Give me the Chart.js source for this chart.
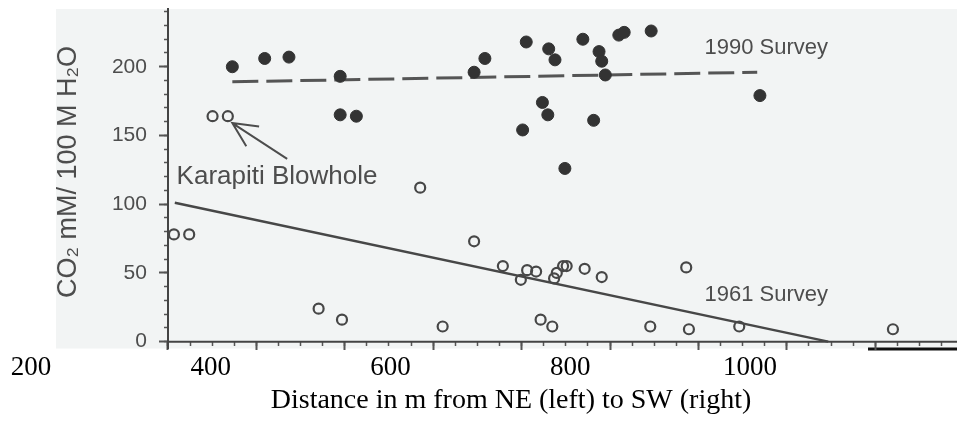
<!DOCTYPE html>
<html lang="en">
<head>
  <meta charset="UTF-8" />
  <title>CO2 along the Karapiti traverse</title>
  <script src="https://cdn.jsdelivr.net/npm/chart.js"></script>
  <style>
    html, body { margin: 0; padding: 0; background: #ffffff; overflow: hidden; }
    /* the plot runs on past the right edge of the window, as the scanned figure does */
    #grafica { display: block; }
  </style>
</head>
<body>
  <canvas id="grafica" width="1022" height="425"></canvas>

  <script>
    // 1990 survey (filled dots)
    const dist1990 = [424, 460, 487, 544, 544, 562, 693, 705, 751, 776, 783, 814, 832, 835, 839, 854, 860, 890, 769, 775, 747, 826, 794, 1011];
    const co2_1990 = [200, 206, 207, 193, 165, 164, 196, 206, 218, 213, 205, 220, 211, 204, 194, 223, 225, 226, 174, 165, 154, 161, 126, 179];

    // 1961 survey (open circles)
    const dist1961 = [402, 419, 359, 376, 520, 546, 633, 658, 693, 725, 745, 752, 762, 782, 785, 792, 796, 816, 835, 767, 780, 889, 929, 932, 988, 1159];
    const co2_1961 = [164, 164, 78, 78, 24, 16, 112, 11, 73, 55, 45, 52, 51, 46, 50, 55, 55, 53, 47, 16, 11, 11, 54, 9, 11, 9];

    // fitted lines, end points
    const trend1990X = [424, 1008];
    const trend1990Y = [189, 196];
    const trend1961X = [360, 1087];
    const trend1961Y = [101, 0];

    // axes
    const xTickLabels = [200, 400, 600, 800, 1000];
    const yTickLabels = [0, 50, 100, 150, 200];
    const yMinorStep = 10;
    const scanOrigin = 300;      // distance at the vertical axis of the scanned plot
    const scanMinorStep = 25;
    const scanMajorStep = 100;

    const tinta = '#474747';
    const fuenteScan = '"Liberation Sans", Arial, sans-serif';
    const fuenteSerif = '"Liberation Serif", "Times New Roman", serif';

    const puntos = (xs, ys) => xs.map((x, i) => ({ x: x, y: ys[i] }));

    function marcas(desde, paso) {
      return s => {
        const t = [];
        for (let v = desde; v <= s.max; v += paso) t.push({ value: v });
        s.ticks = t;
      };
    }

    const sinRelleno = s => { s.paddingTop = 0; s.paddingBottom = 0; s.paddingLeft = 0; s.paddingRight = 0; };

    // paper background, bottom axis line and the text notes of the figure
    const papel = {
      id: 'papel',
      beforeDraw(chart) {
        const { ctx, chartArea } = chart;
        ctx.save();
        ctx.fillStyle = '#f2f4f4';
        ctx.fillRect(56, chartArea.top, chart.width - 56, chartArea.bottom - chartArea.top);
        ctx.fillStyle = '#111';
        ctx.fillRect(868, chartArea.bottom - 1, chart.width - 868, 3);
        ctx.restore();
      },
      beforeDatasetsDraw(chart) {
        const { ctx } = chart;
        const x = chart.scales.x, y = chart.scales.y;
        const y0 = y.getPixelForValue(0);
        ctx.save();
        ctx.strokeStyle = '#444';
        ctx.lineWidth = 2;
        ctx.beginPath();
        ctx.moveTo(x.getPixelForValue(352), y0);
        ctx.lineTo(chart.width, y0);
        ctx.stroke();
        ctx.restore();
      },
      afterDatasetsDraw(chart) {
        const { ctx } = chart;
        const x = chart.scales.x, y = chart.scales.y;
        ctx.save();
        ctx.fillStyle = '#4d4d4d';
        ctx.textBaseline = 'middle';

        ctx.font = '22px ' + fuenteScan;
        ctx.textAlign = 'center';
        ctx.fillText('1990 Survey', x.getPixelForValue(1018), y.getPixelForValue(214));
        ctx.fillText('1961 Survey', x.getPixelForValue(1018), y.getPixelForValue(34));

        ctx.font = '26px ' + fuenteScan;
        ctx.textAlign = 'left';
        ctx.fillText('Karapiti Blowhole', x.getPixelForValue(362), y.getPixelForValue(120));

        // arrow to the blowhole readings
        const px = x.getPixelForValue(424), py = y.getPixelForValue(159);
        const qx = x.getPixelForValue(485), qy = y.getPixelForValue(133);
        const ang = Math.atan2(qy - py, qx - px);
        ctx.strokeStyle = '#4d4d4d';
        ctx.lineWidth = 2;
        ctx.beginPath();
        ctx.moveTo(qx, qy);
        ctx.lineTo(px, py);
        ctx.moveTo(px + 27 * Math.cos(ang - 0.45), py + 27 * Math.sin(ang - 0.45));
        ctx.lineTo(px, py);
        ctx.lineTo(px + 27 * Math.cos(ang + 0.45), py + 27 * Math.sin(ang + 0.45));
        ctx.stroke();

        // vertical axis title
        ctx.translate(69, 172);
        ctx.rotate(-Math.PI / 2);
        ctx.textAlign = 'center';
        ctx.font = '27px ' + fuenteScan;
        ctx.fillText('CO\u2082 mM/ 100 M H\u2082O', 0, 0);
        ctx.restore();
      }
    };

    new Chart(document.getElementById('grafica'), {
      type: 'scatter',
      data: {
        datasets: [
          {
            label: '1990 Survey',
            data: puntos(dist1990, co2_1990),
            pointRadius: 6,
            pointBackgroundColor: '#333',
            pointBorderColor: '#333',
            pointBorderWidth: 1
          },
          {
            label: '1961 Survey',
            data: puntos(dist1961, co2_1961),
            pointRadius: 5,
            pointBackgroundColor: 'rgba(0,0,0,0)',
            pointBorderColor: tinta,
            pointBorderWidth: 2.2
          },
          {
            label: '1990 trend',
            data: puntos(trend1990X, trend1990Y),
            showLine: true,
            pointRadius: 0,
            borderColor: '#555',
            borderWidth: 3,
            borderDash: [26, 8]
          },
          {
            label: '1961 trend',
            data: puntos(trend1961X, trend1961Y),
            showLine: true,
            pointRadius: 0,
            borderColor: tinta,
            borderWidth: 2.5
          }
        ]
      },
      options: {
        responsive: false,
        animation: false,
        layout: { autoPadding: false, padding: { left: 0, right: 0, top: 9, bottom: 10.5 } },
        plugins: { legend: { display: false }, tooltip: { enabled: false } },
        scales: {
          x: {
            type: 'linear',
            position: 'bottom',
            min: 165.5,
            max: 1302.6,
            afterBuildTicks: s => { s.ticks = xTickLabels.map(v => ({ value: v })); },
            grid: { display: false, drawTicks: false },
            border: { display: false },
            ticks: {
              padding: 5.5,
              color: '#000',
              autoSkip: false,
              maxRotation: 0,
              callback: v => String(v),
              font: { family: fuenteSerif, size: 27, lineHeight: 1 }
            },
            title: {
              display: true,
              text: 'Distance in m from NE (left) to SW (right)',
              color: '#000',
              padding: 0,
              font: { family: fuenteSerif, size: 28, lineHeight: 1 }
            }
          },
          y: {
            type: 'linear',
            position: { x: 352 },
            min: -5,
            max: 242,
            afterBuildTicks: s => { s.ticks = yTickLabels.map(v => ({ value: v })); },
            afterFit: sinRelleno,
            grid: { drawOnChartArea: false, tickLength: 8, tickWidth: 2, tickColor: '#555' },
            border: { display: true, color: '#444', width: 2 },
            ticks: { display: false }
          },
          yLabels: {
            type: 'linear',
            axis: 'y',
            position: { x: 329 },
            min: -5,
            max: 242,
            afterBuildTicks: s => { s.ticks = yTickLabels.map(v => ({ value: v })); },
            afterFit: sinRelleno,
            grid: { display: false, drawTicks: false },
            border: { display: false },
            ticks: {
              padding: 0,
              color: '#4d4d4d',
              autoSkip: false,
              font: { family: fuenteScan, size: 21 }
            }
          },
          yMinor: {
            type: 'linear',
            axis: 'y',
            position: { x: 352 },
            min: -5,
            max: 242,
            afterBuildTicks: marcas(0, yMinorStep),
            afterFit: sinRelleno,
            grid: { drawOnChartArea: false, tickLength: 4, tickWidth: 1.5, tickColor: '#555' },
            border: { display: false },
            ticks: { display: false }
          },
          xMinor: {
            type: 'linear',
            axis: 'x',
            position: { y: 0 },
            min: 110,
            max: 1266,
            afterBuildTicks: marcas(scanOrigin, scanMinorStep),
            afterFit: sinRelleno,
            grid: { drawOnChartArea: false, tickLength: 4, tickWidth: 1.5, tickColor: '#555' },
            border: { display: false },
            ticks: { display: false }
          },
          xMajor: {
            type: 'linear',
            axis: 'x',
            position: { y: 0 },
            min: 110,
            max: 1266,
            afterBuildTicks: marcas(scanOrigin, scanMajorStep),
            afterFit: sinRelleno,
            grid: { drawOnChartArea: false, tickLength: 8, tickWidth: 2, tickColor: '#555' },
            border: { display: false },
            ticks: { display: false }
          }
        }
      },
      plugins: [papel]
    });
  </script>
</body>
</html>
